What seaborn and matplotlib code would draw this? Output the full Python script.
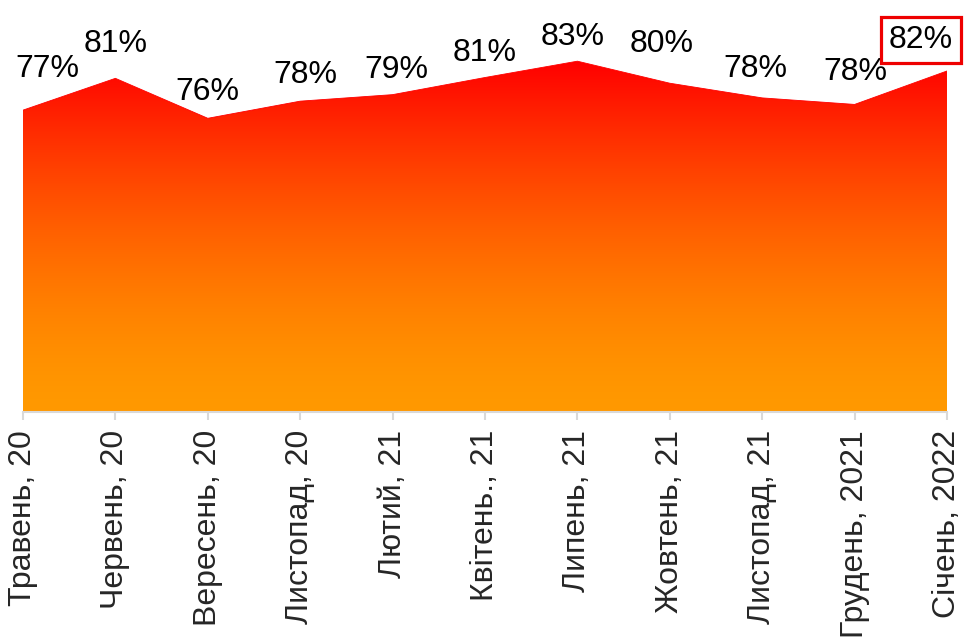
import matplotlib
matplotlib.use("Agg")
import matplotlib.pyplot as plt
import numpy as np
import pandas as pd
import seaborn as sns
from matplotlib.colors import ListedColormap

months = ["Травень, 20", "Червень, 20", "Вересень, 20", "Листопад, 20", "Лютий, 21",
          "Квітень., 21", "Липень, 21", "Жовтень, 21", "Листопад, 21", "Грудень, 2021",
          "Січень, 2022"]
share = [77.0, 80.9, 76.0, 78.1, 78.9, 81.0, 83.0, 80.3, 78.5, 77.7, 81.8]
labels = ["77%", "81%", "76%", "78%", "79%", "81%", "83%", "80%", "78%", "78%", "82%"]

# label nudges in pixels (dx, dy above the point)
nudge_x = [24, 0, 0, 5, 4, 0, -5, -8, -7, 1, -26]
nudge_y = [33, 26, 18, 18, 17, 17, 16, 31, 21, 24, 23]

sns.set_theme(style="white")
plt.rcParams["font.family"] = ["Liberation Sans", "DejaVu Sans"]

df = pd.DataFrame({"x": np.arange(len(months)), "share": share})

fig = plt.figure(figsize=(9.67, 6.39), dpi=100)
ax = fig.add_axes([23 / 967, (639 - 412) / 639, 924 / 967, 412 / 639])

ymin, ymax = 40, 90.5
ax.set_xlim(0, len(months) - 1)
ax.set_ylim(ymin, ymax)

# orange at the bottom, red on top; orange holds a bit longer
s = np.linspace(0, 1, 256)
green = 153 * (1 - s ** 1.5)
rgb = np.stack([np.ones_like(s), green / 255, np.zeros_like(s)], axis=1)
cmap = ListedColormap(rgb)

poly = ax.fill_between(df["x"], ymin, df["share"], color="none", lw=0)
grad = np.linspace(0, 1, 256).reshape(-1, 1)
img = ax.imshow(grad, cmap=cmap, aspect="auto", origin="lower",
                extent=[0, len(months) - 1, ymin, max(share)], zorder=1)
img.set_clip_path(poly.get_paths()[0], transform=ax.transData)
sns.lineplot(data=df, x="x", y="share", ax=ax, color="#ff0000", lw=0.6, zorder=2)

px = 0.72  # points per pixel
for i, (v, lab) in enumerate(zip(share, labels)):
    kw = {}
    if i == len(share) - 1:
        kw["bbox"] = dict(boxstyle="square,pad=0.26", fc="white", ec="#ee0000", lw=2.3)
    ax.annotate(lab, (i, v), xytext=(nudge_x[i] * px, nudge_y[i] * px),
                textcoords="offset points", ha="center", va="baseline",
                fontsize=23, color="black", zorder=5, annotation_clip=False, **kw)

ax.set_xticks(df["x"])
ax.set_xticklabels(months, rotation=90, fontsize=23, va="top", ha="center")
ax.set_yticks([])
ax.set_xlabel("")
ax.set_ylabel("")
ax.tick_params(axis="x", length=6, width=1.5, color="#d9d9d9", pad=7, bottom=True)
for s_ in ["top", "left", "right"]:
    ax.spines[s_].set_visible(False)
ax.spines["bottom"].set_color("#d9d9d9")
ax.spines["bottom"].set_linewidth(1.5)
ax.patch.set_alpha(0)

fig.savefig("out.png", dpi=100)
